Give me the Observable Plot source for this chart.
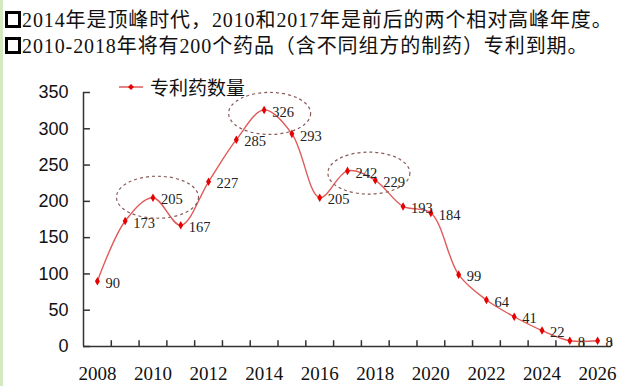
<!DOCTYPE html>
<html>
<head>
<meta charset="utf-8">
<script src="https://cdn.jsdelivr.net/npm/d3@7"></script>
<script src="https://cdn.jsdelivr.net/npm/@observablehq/plot@0.6"></script>
<style>
  html, body { margin: 0; padding: 0; background: #fff; }
  #wrap { position: relative; width: 626px; height: 386px; overflow: hidden; border-left: 3px solid #d4e9c2; box-sizing: border-box; }
  .title { position: absolute; left: 2px; font-family: "Liberation Serif", "Noto Sans CJK SC", serif; font-size: 20px; letter-spacing: 0.9px; color: #111; white-space: nowrap; line-height: 24px; }
  .box { display: inline-block; width: 10px; height: 11px; border: 3px solid #000; margin-right: 1px; vertical-align: -1px; }
  #legend { position: absolute; left: 115px; top: 73px; font-family: "Noto Sans CJK SC", sans-serif; font-size: 19px; color: #111; display: flex; align-items: center; }
  #legend svg { margin-right: 6px; }
  #chart { position: absolute; left: -3px; top: 60px; }
</style>
</head>
<body>
<div id="wrap">
  <div class="title" style="top:8px"><span class="box"></span>2014年是顶峰时代，2010和2017年是前后的两个相对高峰年度。</div>
  <div class="title" style="top:34px"><span class="box"></span>2010-2018年将有200个药品（含不同组方的制药）专利到期。</div>
  <div id="legend"><svg width="26" height="10"><line x1="1" y1="5" x2="25" y2="5" stroke="#e05a5a" stroke-width="1.5"/><path d="M13,2 L16,5 L13,8 L10,5 Z" fill="#e60000"/></svg><span>专利药数量</span></div>
  <div id="chart"></div>
</div>
<script>
const years = [2008,2009,2010,2011,2012,2013,2014,2015,2016,2017,2018,2019,2020,2021,2022,2023,2024,2025,2026];
const counts = [90,173,205,167,227,285,326,293,205,242,229,193,184,99,64,41,22,8,8];
const yTicks = [0,50,100,150,200,250,300,350];
const xLabels = [2008,2010,2012,2014,2016,2018,2020,2022,2024,2026];
const peakGroups = [[2010],[2014],[2017,2018]];

const data = years.map((y,i) => ({year: y, value: counts[i]}));
const boundaries = years.map(y => y + 0.5);
const x0 = years[0] - 0.5, x1 = years[years.length-1] + 0.5;
const axisColor = "#333";

const plot = Plot.plot({
  width: 626,
  height: 326,
  marginLeft: 83,
  marginRight: 15,
  marginTop: 32,
  marginBottom: 40,
  x: {domain: [x0, x1], axis: null},
  y: {domain: [0, 350], axis: null},
  style: {background: "transparent", overflow: "visible"},
  marks: [
    Plot.ruleX([x0], {y1: 0, y2: 350, stroke: axisColor, strokeWidth: 1.5}),
    Plot.ruleY(yTicks, {y: d => d, x1: x0, x2: x0 + 0.25, stroke: axisColor, strokeWidth: 1.5}),
    Plot.ruleY([0], {x1: x0, x2: x1, stroke: axisColor, strokeWidth: 1.5}),
    Plot.ruleX(boundaries, {x: d => d, y1: 0, y2: 8, stroke: axisColor, strokeWidth: 1.5}),
    Plot.text(yTicks, {x: x0, y: d => d, text: d => String(d), dx: -15, textAnchor: "end", fontFamily: "Liberation Sans, Arial, sans-serif", fontSize: 18, fill: "#111"}),
    Plot.text(xLabels, {x: d => d, y: 0, text: d => String(d), dy: 27, fontFamily: "Liberation Serif, serif", fontSize: 19, fill: "#111"}),
    Plot.line(data, {x: "year", y: "value", curve: "catmull-rom", stroke: "#e05a5a", strokeWidth: 1.4}),
    Plot.dot(data, {x: "year", y: "value", symbol: "diamond", r: 2.6, fill: "#e60000", stroke: "none"}),
    Plot.text(data, {x: "year", y: "value", text: d => String(d.value), dx: 8, dy: 2, textAnchor: "start", fontFamily: "Liberation Serif, serif", fontSize: 14.5, fill: "#222"})
  ]
});
document.getElementById("chart").appendChild(plot);

const sx = plot.scale("x"), sy = plot.scale("y");
const svg = d3.select(plot);
const offsets = [[5, 0], [6, 4], [8, -2]];
peakGroups.forEach((g, i) => {
  const cx = d3.mean(g, yr => sx.apply(yr)) + offsets[i][0];
  const cy = d3.mean(g, yr => sy.apply(counts[years.indexOf(yr)])) + offsets[i][1];
  svg.append("ellipse")
    .attr("cx", cx).attr("cy", cy)
    .attr("rx", 41).attr("ry", 21)
    .attr("fill", "none")
    .attr("stroke", "#8a5a5a")
    .attr("stroke-width", 1.2)
    .attr("stroke-dasharray", "3,3");
});
</script>
</body>
</html>
